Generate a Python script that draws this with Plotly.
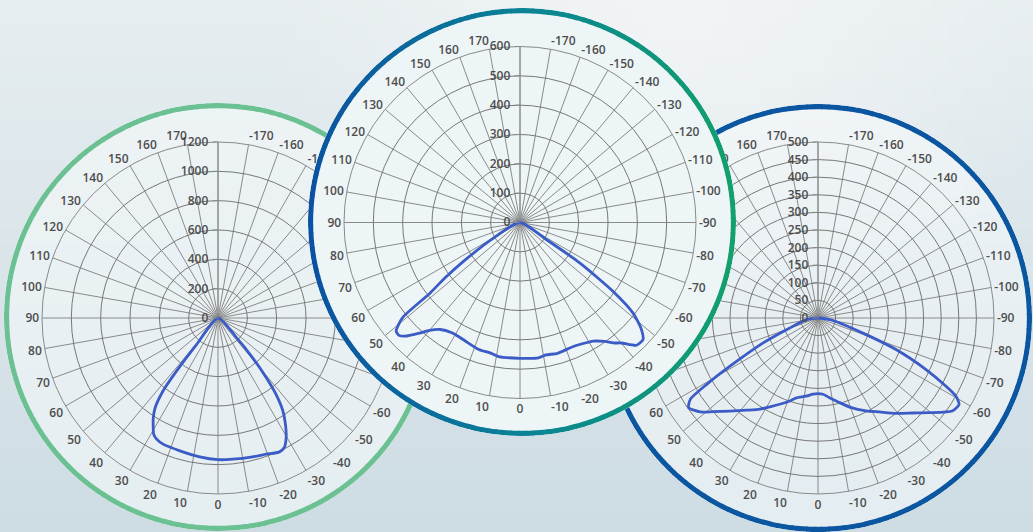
import math
import zlib
import struct
import base64
import plotly.graph_objects as go

W, H = 1033, 532

# ---------------- data ----------------
# Left chart (scale 0-1200)
theta_a = [-46, -43, -41, -39, -37.3, -35, -32.4, -29.7, -27.1, -24.5, -19.5, -14, -6, 0,
           7.5, 16, 23.5, 27, 29, 31, 33, 35, 37, 38, 39, 41]
r_a = [0, 200, 360, 520, 650, 770, 858, 938, 992, 1005, 985, 976, 968, 966,
       955, 942, 938, 925, 905, 858, 810, 747, 623, 460, 233, 0]

# Middle chart (scale 0-600)
theta_b = [-60, -57, -55.9, -53.5, -51.3, -48.6, -46.4, -43.5, -40.1, -37.7, -35.5, -31.6, -29.7,
           -23, -16, -11, -7.7, 0, 9, 12.9, 18, 24.8, 28, 31.7, 36.7, 40, 42.3, 45.3, 47, 48.7,
           50, 51.1, 51.9, 53.5, 55.5, 59.6, 63]
r_b = [0, 108, 247, 395, 494, 552, 579, 577, 537, 519, 498, 475, 470,
       460, 464, 460, 466, 463, 463, 456, 455, 445, 442, 442, 455, 480, 510, 551, 564, 562,
       540, 510, 389, 320, 234, 105, 0]

# Right chart (scale 0-500)
theta_c = [-92, -82, -77, -71, -68, -64.5, -62, -60.5, -58.5, -55.3, -49.6, -44.9, -39.3, -33.2,
           -27.4, -20, -14.3, -8, -3.7, 0, 3.7, 9, 15.2, 19, 23.9, 28, 32.5, 37.7, 43.4, 48.2,
           51.4, 55.3, 57.5, 59.2, 61.3, 65.6, 70.6, 81.9, 92]
r_c = [0, 35, 63, 145, 239, 340, 411, 450, 470, 464, 415, 381, 350, 319,
       297, 270, 248, 228, 217, 215, 217, 225, 235, 250, 268, 285, 307, 331, 364, 399,
       428, 447, 430, 368, 285, 171, 85, 33, 0]

angle_ticks = list(range(0, 360, 10))
angle_labels = [str(v) if v < 180 else ("" if v == 180 else str(v - 360)) for v in angle_ticks]

# ---------------- styling ----------------
TXT = dict(family="Open Sans", size=12, color="#4d4d4d", weight=600)
GRID = "#8a8a8a"
CURVE = "#3b5cc6"
R_GRID = 176
R_DISC = 214


def dom(cx, cy, R):
    return dict(x=[(cx - R) / W, (cx + R) / W], y=[1 - (cy + R) / H, 1 - (cy - R) / H])


def grid_polar(cx, cy, rmax, dtick):
    return dict(
        domain=dom(cx, cy, R_GRID),
        bgcolor="rgba(0,0,0,0)",
        angularaxis=dict(rotation=270, direction="clockwise", tickmode="array",
                         tickvals=angle_ticks, ticktext=angle_labels, showgrid=True,
                         gridcolor=GRID, gridwidth=0.8, showline=True, linecolor=GRID,
                         linewidth=1, ticks="", tickfont=TXT),
        radialaxis=dict(range=[0, rmax], tick0=0, dtick=dtick, angle=90, tickangle=90,
                        showline=True, linecolor=GRID, linewidth=1, ticks="outside", ticklen=5,
                        tickcolor=GRID, showgrid=True, gridcolor="#777777", gridwidth=0.9,
                        tickfont=TXT, side="counterclockwise"),
    )


def disc_polar(cx, cy, bg):
    return dict(domain=dom(cx, cy, R_DISC), bgcolor=bg,
                angularaxis=dict(visible=False), radialaxis=dict(visible=False, range=[0, 1]))


def hex2rgb(h):
    h = h.lstrip("#")
    return [int(h[i:i + 2], 16) for i in (0, 2, 4)]


def mix(c1, c2, t):
    a, b = hex2rgb(c1), hex2rgb(c2)
    return "rgb(%d,%d,%d)" % tuple(round(a[i] + (b[i] - a[i]) * t) for i in range(3))


ring_theta = list(range(0, 360, 2))


def ring_colors(kind):
    out = []
    for t in ring_theta:
        if kind == "grad":
            x = (1 + math.cos(math.radians(t))) / 2  # 0 left, 1 right
            if x < 0.5:
                out.append(mix("#0b52a2", "#0a8396", x / 0.5))
            else:
                out.append(mix("#0a8396", "#12a06c", (x - 0.5) / 0.5))
        else:
            out.append(kind)
    return out


def ring(sub, kind):
    return go.Barpolar(theta=ring_theta, r=[0.024] * len(ring_theta), base=[0.976] * len(ring_theta),
                       width=[2.3] * len(ring_theta),
                       marker=dict(color=ring_colors(kind), line=dict(width=0)),
                       subplot=sub, hoverinfo="skip", showlegend=False)


def curve(sub, th, rr):
    return go.Scatterpolar(theta=th, r=rr, mode="lines", subplot=sub,
                           line=dict(color=CURVE, width=2.8, shape="spline", smoothing=0.6),
                           hoverinfo="skip", showlegend=False)


# ---------------- soft background gradient (decorative picture) ----------------
def background_png(w=66, h=34):
    top, bot = hex2rgb("#e6edf0"), hex2rgb("#cedde4")
    rows = []
    for j in range(h):
        ty = j / (h - 1)
        row = bytearray([0])
        for i in range(w):
            base = [top[k] + (bot[k] - top[k]) * ty for k in range(3)]
            gx, gy = (i / (w - 1)) * W, ty * H
            d = math.hypot((gx - 680) / 420, (gy - 20) / 300)
            glow = max(0.0, 1 - d) * 0.6
            px = [min(255, round(base[k] + (250 - base[k]) * glow)) for k in range(3)]
            row += bytes(px)
        rows.append(bytes(row))
    raw = b"".join(rows)

    def chunk(t, d):
        return struct.pack(">I", len(d)) + t + d + struct.pack(">I", zlib.crc32(t + d) & 0xffffffff)

    data = (b"\x89PNG\r\n\x1a\n" + chunk(b"IHDR", struct.pack(">IIBBBBB", w, h, 8, 2, 0, 0, 0))
            + chunk(b"IDAT", zlib.compress(raw)) + chunk(b"IEND", b""))
    return "data:image/png;base64," + base64.b64encode(data).decode()


fig = go.Figure()
fig.add_trace(ring("polar", "#6cc193"))
fig.add_trace(curve("polar2", theta_a, r_a))
fig.add_trace(ring("polar3", "#0b56a1"))
fig.add_trace(curve("polar4", theta_c, r_c))
fig.add_trace(ring("polar5", "grad"))
fig.add_trace(curve("polar6", theta_b, r_b))

fig.update_layout(
    width=W, height=H, autosize=False,
    margin=dict(l=0, r=0, t=0, b=0),
    paper_bgcolor="#dde6eb",
    showlegend=False,
    images=[dict(source=background_png(), xref="paper", yref="paper", x=0, y=1,
                 sizex=1, sizey=1, sizing="stretch", xanchor="left", yanchor="top",
                 layer="below")],
    polar=disc_polar(218, 317, "rgba(248,251,252,0.55)"),
    polar2=grid_polar(218, 318, 1200, 200),
    polar3=disc_polar(818, 318, "rgba(246,250,251,0.55)"),
    polar4=grid_polar(818, 318, 500, 50),
    polar5=disc_polar(522, 222, "#edf5f7"),
    polar6=grid_polar(520, 222.5, 600, 100),
)

fig.write_html("out.html", config={"displayModeBar": False},
               post_script="document.body.style.margin='0';document.body.style.overflow='hidden';")
